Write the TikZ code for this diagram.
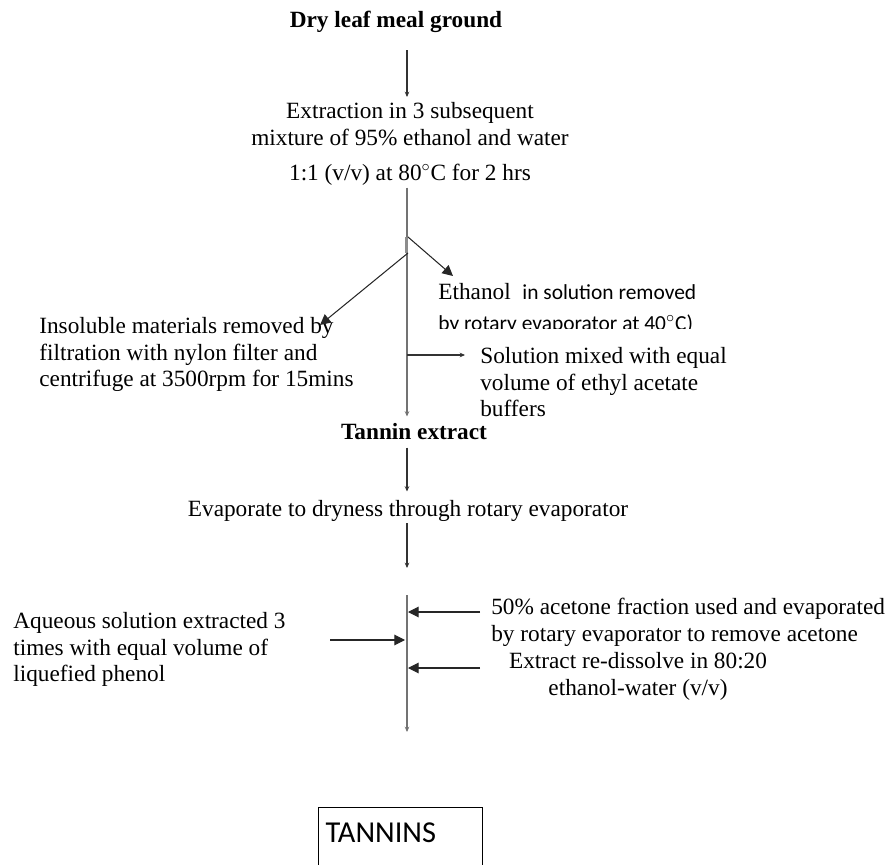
\documentclass[tikz,border=0pt]{standalone}
\usepackage{fontspec}
\setmainfont{Liberation Serif}
\newfontfamily\calibfont{Carlito}
\usepackage{tikz}
\usetikzlibrary{arrows.meta,calc}

\begin{document}
\begin{tikzpicture}[x=0.02cm, y=-0.02cm,
  txt/.style={inner sep=0pt, align=left, font=\fontsize{13.25}{15.1}\selectfont},
  hdr/.style={txt, font=\fontsize{13.25}{15.1}\selectfont\bfseries},
  spine/.style={-{Stealth[length=3pt,width=2.6pt]}, line width=0.9pt, black!55},
  arr/.style={-{Stealth[length=3pt,width=2.6pt]}, line width=0.6pt, black!80},
  bigarr/.style={-{Triangle[length=6pt,width=6pt]}, line width=0.6pt, black!85},
  outbox/.style={draw, line width=0.6pt, anchor=north west, inner xsep=1.4mm, inner ysep=3mm,
                 text width=3cm, text depth=2cm, font=\calibfont\fontsize{17.3}{20}\selectfont}]

  \useasboundingbox (0,0) rectangle (894,865);
  \coordinate (spine) at (407,0);

  % main column
  \node[hdr, anchor=base] (dry) at (396,28) {Dry leaf meal ground};
  \node[txt, align=center, anchor=north] (extr) at (410,102)
    {Extraction in 3 subsequent\\mixture of 95\% ethanol and water\\[5pt]1:1 (v/v) at 80$^{\circ}$C for 2 hrs};
  \node[hdr, anchor=base] (tan) at (414,439) {Tannin extract};
  \node[txt, anchor=base] (evap) at (408,517) {Evaporate to dryness through rotary evaporator};

  % side notes
  \begin{scope}
    \clip (420,270) rectangle (740,329);
    \node[txt, anchor=north west] (eth) at (438,283)
      {Ethanol\ \ {\calibfont\fontsize{12.2}{15.1}\selectfont in solution removed}\\[2.5pt]{\calibfont\fontsize{12.2}{15.1}\selectfont by rotary evaporator at 40$^{\circ}$C)}};
  \end{scope}
  \node[txt, anchor=north west] (ins) at (39,317)
    {Insoluble materials removed by\\filtration with nylon filter and\\centrifuge at 3500rpm for 15mins};
  \node[txt, anchor=north west] (sol) at (480,347)
    {Solution mixed with equal\\volume of ethyl acetate\\buffers};
  \node[txt, anchor=north west] (phen) at (13,612)
    {Aqueous solution extracted 3\\times with equal volume of\\liquefied phenol};
  \node[txt, anchor=north west] (acet) at (491,598)
    {50\% acetone fraction used and evaporated\\by rotary evaporator to remove acetone};
  \node[txt, align=center, anchor=north] (redis) at (638,652)
    {Extract re-dissolve in 80:20\\ethanol-water (v/v)};

  \node[outbox] (final) at (318,807) {TANNINS};

  % connectors
  \coordinate (split) at (408,237);
  \coordinate (split2) at (408,253);
  \coordinate (insTip) at (320,325);
  \coordinate (mix) at (407,355);
  \coordinate (lowTop) at (407,595);
  \coordinate (lowEnd) at (407,732);
  \coordinate (in1) at (408,612);
  \coordinate (in2) at (405,640);
  \coordinate (in3) at (408,668);
  \coordinate (phenOut) at (330,640);

  \draw[arr, shorten <=3.4mm, shorten >=1mm] (dry.south -| spine) -- (extr.north -| spine);
  \draw[spine, shorten <=0.4mm, shorten >=1.2mm] (extr.south -| spine) -- (tan.north -| spine);
  \fill[black!45] (404.5,237) rectangle (407.5,253);
  \draw[bigarr] (split) -- ([xshift=3mm,yshift=1.4mm]eth.north west);
  \draw[bigarr] (split2) -- (insTip);
  \draw[arr, shorten >=3mm] (mix) -- (mix -| sol.west);
  \draw[arr, shorten <=1.6mm, shorten >=1.8mm] (tan.south -| spine) -- (evap.north -| spine);
  \draw[arr, shorten <=0.2mm, shorten >=5.4mm] (evap.south -| spine) -- (lowTop);
  \draw[spine] (lowTop) -- (lowEnd);
  \draw[bigarr, shorten <=2.2mm] (in1 -| acet.west) -- (in1);
  \draw[bigarr] (phenOut) -- (in2);
  \draw[bigarr, shorten <=2.2mm] (in3 -| acet.west) -- (in3);

\end{tikzpicture}
\end{document}
